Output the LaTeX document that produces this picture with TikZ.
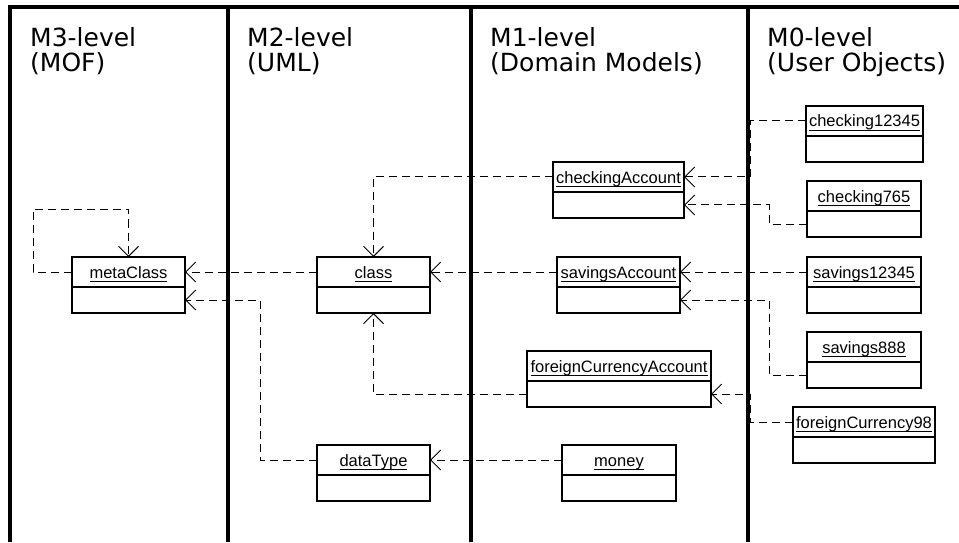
\documentclass[tikz,border=0pt]{standalone}
\usepackage{fontspec}
\usetikzlibrary{arrows.meta,positioning}
\newfontfamily\titlefont{DejaVu Sans}
\newfontfamily\labelfont{Liberation Sans}
\def\objname#1{\setbox0\hbox{#1}\rlap{\rule[-3.5pt]{\wd0}{0.9pt}}\box0}
\def\umlobj(#1)(#2)(#3)#4{\node[namebox, minimum width=#3pt] (#1) at (#2) {\objname{#4}};
	\node[bodybox, minimum width=#3pt, below=0pt of #1] (#1-b) {};}
\tikzset{
	frameline/.style={line width=4pt},
	leveltitle/.style={font=\titlefont\fontsize{25}{25}\selectfont, align=left, anchor=base west, inner sep=0pt},
	namebox/.style={draw, line width=1.4pt, inner sep=0pt, outer sep=0pt, minimum height=30pt, text height=14pt, text depth=2pt, font=\labelfont\fontsize{16.5}{18}\selectfont},
	bodybox/.style={draw, line width=1.4pt, inner sep=0pt, outer sep=0pt, minimum height=26pt},
	dep/.style={line width=1pt, dash pattern=on 8pt off 5pt, -{Straight Barb[length=10pt,width=20pt]}}
}
\begin{document}
\begin{tikzpicture}[x=1pt, y=1pt]
			%%%%% START %%%%%
			\useasboundingbox (0,0) rectangle (959,542);
			
			\draw[frameline] (10,0) -- (10,535) -- (959,535);
			\draw[frameline] (228,0) -- (228,535);
			\draw[frameline] (471,0) -- (471,535);
			\draw[frameline] (748,0) -- (748,535);
			
			\node[leveltitle] (ttl3) at (30,470) {M3-level\\(MOF)};
			\node[leveltitle] (ttl2) at (247,470) {M2-level\\(UML)};
			\node[leveltitle] (ttl1) at (490,470) {M1-level\\(Domain Models)};
			\node[leveltitle] (ttl0) at (767,470) {M0-level\\(User Objects)};
			
			\umlobj(mc)(128.5,270)(113){metaClass}
			\umlobj(cls)(373.5,270)(113){class}
			\umlobj(dt)(373.5,82)(113){dataType}
			
			\umlobj(ca)(618.5,365)(131){checkingAccount}
			\umlobj(sa)(618.5,270)(123){savingsAccount}
			\umlobj(fca)(619,176)(184){foreignCurrencyAccount}
			\umlobj(mon)(619,82)(114){money}
			
			\umlobj(c12345)(864.5,421)(117){checking12345}
			\umlobj(c765)(864,346)(114){checking765}
			\umlobj(s12345)(864,270)(114){savings12345}
			\umlobj(s888)(864,195)(114){savings888}
			\umlobj(fc98)(864,120)(142){foreignCurrency98}
			
			\draw[dep] (mc.west) -- ++(-39,0) |- ([yshift=48pt]mc.north) -- (mc.north);
			\draw[dep] (cls.west) -- (mc.east);
			\draw[dep] (dt.west) -- ++(-57,0) |- (mc-b.east);
			
			\draw[dep] (ca.west) -| (cls.north);
			\draw[dep] (sa.west) -- (cls.east);
			\draw[dep] (fca-b.west) -| (cls-b.south);
			\draw[dep] (mon.west) -- (dt.east);
			
			\draw[dep] (c12345.west) -- ++(-56,0) |- (ca.east);
			\draw[dep] (c765-b.west) -- ++(-38,0) |- (ca-b.east);
			\draw[dep] (s12345.west) -- (sa.east);
			\draw[dep] (s888-b.west) -- ++(-38,0) |- (sa-b.east);
			\draw[dep] (fc98.west) -- ++(-43,0) |- (fca-b.east);
			
			%%%%% END %%%%%
\end{tikzpicture}
\end{document}
